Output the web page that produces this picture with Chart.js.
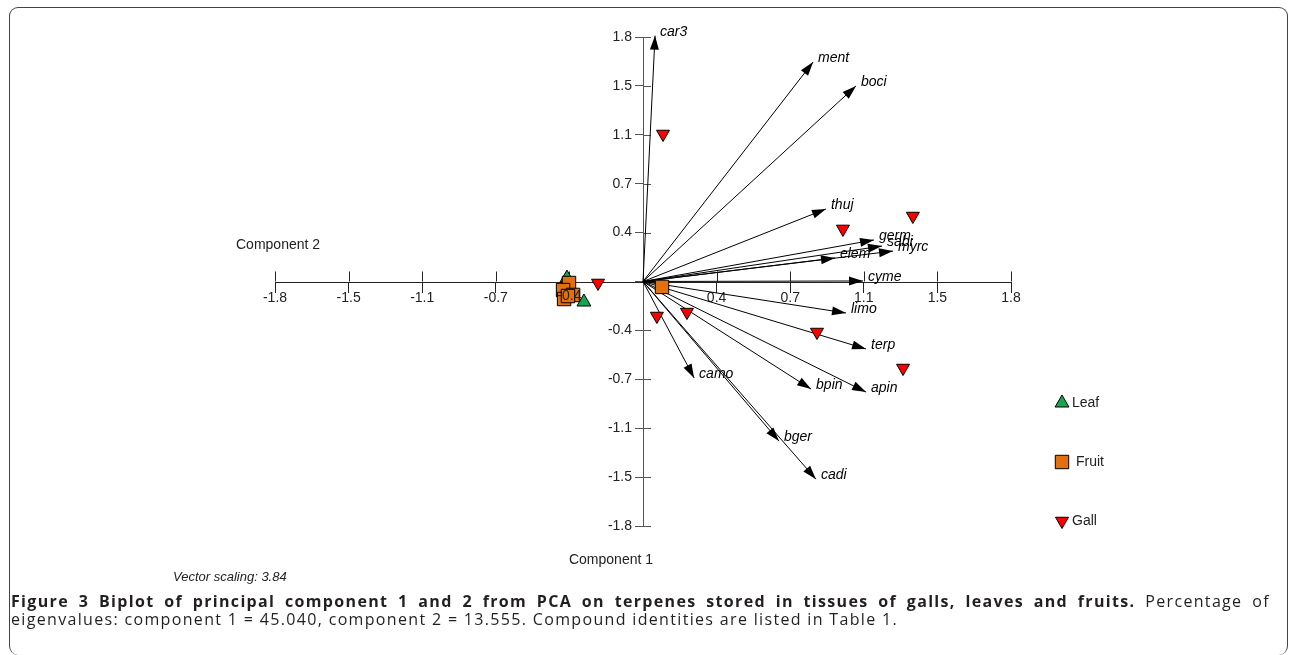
<!DOCTYPE html>
<html>
<head>
<meta charset="utf-8">
<script src="https://cdn.jsdelivr.net/npm/chart.js@4.4.1/dist/chart.umd.min.js"></script>
<style>
  body { margin: 0; background: #fff; width: 1290px; height: 655px; overflow: hidden; position: relative; }
  #frame { position: absolute; left: 9px; top: 7px; width: 1279px; height: 648px; box-sizing: border-box;
           border: 1.5px solid #444; border-bottom: none; border-radius: 9px; }
  #plot { position: absolute; left: 0; top: 0; }
  #caption { position: absolute; left: 11px; top: 592px; font-family: "Open Sans", sans-serif; font-size: 16px;
             line-height: 18px; color: #231f20; white-space: nowrap; }
  #caption b { font-weight: 700; }
</style>
</head>
<body>
<div id="frame"></div>
<canvas id="plot" width="1290" height="655"></canvas>
<div id="caption">
  <span class="line" id="cap1"><b>Figure 3 Biplot of principal component 1 and 2 from PCA on terpenes stored in tissues of galls, leaves and fruits.</b> Percentage of</span><br>
  <span class="line" id="cap2">eigenvalues: component 1 = 45.040, component 2 = 13.555. Compound identities are listed in Table 1.</span>
</div>
<script>
const FONT = '"Liberation Sans", Arial, sans-serif';

const xTickLabels = ["-1.8", "-1.5", "-1.1", "-0.7", "-0.4", "", "0.4", "0.7", "1.1", "1.5", "1.8"];
const yTickLabels = ["-1.8", "-1.5", "-1.1", "-0.7", "-0.4", "", "0.4", "0.7", "1.1", "1.5", "1.8"];

// loading vectors (scaled 3.84)
const vectorNames = ["car3", "ment", "boci", "thuj", "germ.", "sabi", "myrc", "elem", "cyme",
                     "limo", "terp", "apin", "bpin", "camo", "bger", "cadi"];
const vectorX = [0.059, 0.832, 1.042, 0.895, 1.130, 1.169, 1.223, 0.939, 1.076,
                 0.993, 1.091, 1.091, 0.822, 0.250, 0.665, 0.846];
const vectorY = [1.810, 1.616, 1.440, 0.534, 0.306, 0.261, 0.224, 0.173, 0.004,
                 -0.232, -0.497, -0.814, -0.792, -0.710, -1.175, -1.455];

// sample scores
const gallX = [0.098, 0.978, 1.320, -0.220, 0.068, 0.215, 0.851, 1.272];
const gallY = [1.086, 0.387, 0.482, -0.011, -0.254, -0.225, -0.372, -0.637];
const fruitX = [0.093, -0.362, -0.391, -0.342, -0.386, -0.367];
const fruitY = [-0.040, -0.011, -0.063, -0.099, -0.129, -0.107];
const leafX = [-0.289, -0.372];
const leafY = [-0.151, 0.025];

function pts(xs, ys) {
  return xs.map((v, i) => ({ x: v, y: ys[i] }));
}

const vectorData = [];
vectorX.forEach((v, i) => {
  vectorData.push({ x: 0, y: 0 }, { x: v, y: vectorY[i] }, { x: 0, y: null });
});

const biplotExtras = {
  id: "biplotExtras",
  beforeDatasetsDraw(chart) {
    const ctx = chart.ctx;
    const xs = chart.scales.x, ys = chart.scales.y;
    const x0 = xs.getPixelForValue(0), y0 = ys.getPixelForValue(0);
    ctx.save();
    // other half of the crossing tick marks
    ctx.strokeStyle = "#222";
    ctx.lineWidth = 1;
    xs.ticks.forEach((t, i) => {
      const p = Math.round(xs.getPixelForTick(i)) + 0.5;
      ctx.beginPath(); ctx.moveTo(p, y0 - 10); ctx.lineTo(p, y0); ctx.stroke();
    });
    ctx.strokeStyle = "#555";
    ys.ticks.forEach((t, i) => {
      const p = Math.round(ys.getPixelForTick(i)) + 0.5;
      ctx.beginPath(); ctx.moveTo(x0, p); ctx.lineTo(x0 + 8, p); ctx.stroke();
    });
    // arrow heads and names
    ctx.fillStyle = "#000";
    ctx.font = "italic 14px " + FONT;
    ctx.textAlign = "left";
    ctx.textBaseline = "middle";
    vectorNames.forEach((name, i) => {
      const x1 = xs.getPixelForValue(vectorX[i]);
      const y1 = ys.getPixelForValue(vectorY[i]);
      const a = Math.atan2(y1 - y0, x1 - x0);
      const c = Math.cos(a), s = Math.sin(a);
      ctx.beginPath();
      ctx.moveTo(x1, y1);
      ctx.lineTo(x1 - 14 * c + 4.5 * s, y1 - 14 * s - 4.5 * c);
      ctx.lineTo(x1 - 14 * c - 4.5 * s, y1 - 14 * s + 4.5 * c);
      ctx.closePath();
      ctx.fill();
      ctx.fillText(name, x1 + 5, y1 - 4);
    });
    ctx.restore();
  },
  afterDraw(chart) {
    const ctx = chart.ctx;
    const xs = chart.scales.x, ys = chart.scales.y;
    const x0 = xs.getPixelForValue(0), y0 = ys.getPixelForValue(0);
    ctx.save();
    ctx.fillStyle = "#222";
    ctx.font = "14px " + FONT;
    ctx.textBaseline = "middle";
    // the -0.4 label sits on top of the fruit cluster in the original
    ctx.textAlign = "center";
    ctx.fillText(xTickLabels[4], xs.getPixelForTick(4), y0 + 15);
    ctx.textAlign = "left";
    ctx.fillText("Component 2", xs.left - 39, y0 - 36);
    ctx.textAlign = "center";
    ctx.fillText("Component 1", x0 - 32, ys.bottom + 34);
    ctx.textAlign = "left";
    ctx.font = "italic 13px " + FONT;
    ctx.fillText("Vector scaling: 3.84", 173, 577);

    // legend
    const items = [
      { ds: chart.data.datasets[2], y: 403, tx: 1072 },
      { ds: chart.data.datasets[1], y: 462, tx: 1076 },
      { ds: chart.data.datasets[0], y: 521, tx: 1072 }
    ];
    items.forEach(it => {
      ctx.fillStyle = it.ds.backgroundColor;
      ctx.strokeStyle = it.ds.borderColor;
      ctx.lineWidth = it.ds.borderWidth;
      Chart.helpers.drawPoint(ctx, {
        pointStyle: it.ds.pointStyle,
        rotation: it.ds.rotation || 0,
        radius: it.ds.pointRadius,
        borderWidth: it.ds.borderWidth
      }, 1062, it.y);
      ctx.fillStyle = "#222";
      ctx.font = "14px " + FONT;
      ctx.fillText(it.ds.label, it.tx, it.y);
    });
    ctx.restore();
  }
};

new Chart(document.getElementById("plot"), {
  type: "scatter",
  data: {
    datasets: [
      {
        label: "Gall",
        data: pts(gallX, gallY),
        pointStyle: "triangle",
        rotation: 180,
        pointRadius: 7.5,
        backgroundColor: "#ff0000",
        borderColor: "#000",
        borderWidth: 1
      },
      {
        label: "Fruit",
        data: pts(fruitX, fruitY),
        pointStyle: "rect",
        pointRadius: 9.5,
        backgroundColor: "#e2700f",
        borderColor: "#000",
        borderWidth: 1
      },
      {
        label: "Leaf",
        data: pts(leafX, leafY),
        pointStyle: "triangle",
        pointRadius: 8,
        backgroundColor: "#14a850",
        borderColor: "#000",
        borderWidth: 1
      },
      {
        label: "vectors",
        data: vectorData,
        showLine: true,
        spanGaps: false,
        pointRadius: 0,
        borderColor: "#000",
        borderWidth: 1
      }
    ]
  },
  options: {
    responsive: false,
    animation: false,
    devicePixelRatio: 1,
    clip: false,
    layout: { padding: { left: 275, right: 279, top: 37, bottom: 129 } },
    plugins: {
      legend: { display: false },
      tooltip: { enabled: false }
    },
    scales: {
      x: {
        type: "linear",
        position: "center",
        min: -1.8,
        max: 1.8,
        ticks: {
          stepSize: 0.36,
          autoSkip: false,
          maxRotation: 0,
          padding: -2,
          color: "#222",
          font: { family: FONT, size: 14 },
          callback: (v, i) => xTickLabels[i]
        },
        grid: { drawOnChartArea: false, tickLength: 10, color: "#222" },
        border: { color: "#222", width: 1 }
      },
      y: {
        type: "linear",
        position: "center",
        min: -1.8,
        max: 1.8,
        ticks: {
          stepSize: 0.36,
          autoSkip: false,
          padding: 3,
          color: "#222",
          font: { family: FONT, size: 14 },
          callback: (v, i) => yTickLabels[i]
        },
        grid: { drawOnChartArea: false, tickLength: 8, color: "#555" },
        border: { color: "#555", width: 1 }
      }
    }
  },
  plugins: [biplotExtras]
});

// caption: stretch the (unjustified) second line to the original width with letter spacing,
// then justify the first line with word spacing
const cap = document.getElementById("caption");
const cap1 = document.getElementById("cap1");
const cap2 = document.getElementById("cap2");
const ls = (887 - cap2.getBoundingClientRect().width) / cap2.textContent.length;
cap.style.letterSpacing = ls.toFixed(3) + "px";
const w1 = cap1.getBoundingClientRect().width;
const gaps = cap1.textContent.trim().split(/\s+/).length - 1;
cap1.style.wordSpacing = ((1259 - w1) / gaps).toFixed(2) + "px";
</script>
</body>
</html>
